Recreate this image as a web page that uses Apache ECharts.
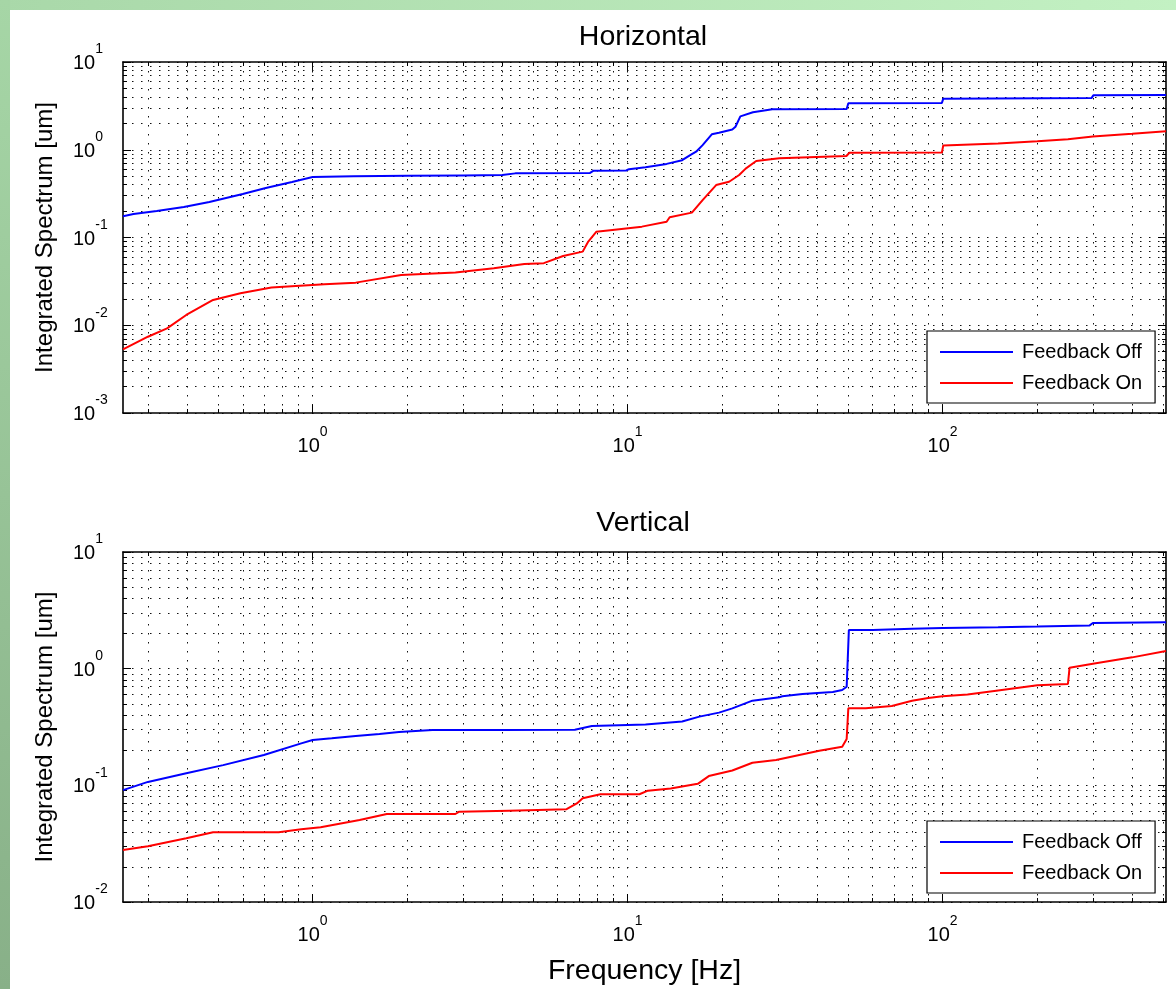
<!DOCTYPE html>
<html><head><meta charset="utf-8">
<script src="https://cdn.jsdelivr.net/npm/echarts@6/dist/echarts.min.js"></script>
<style>html,body{margin:0;padding:0;background:#fff}#c{width:1176px;height:989px}</style>
</head><body><div id="c"></div>
<script>
// ---- data ----
const freqOffH = [0.25, 0.27, 0.32, 0.39, 0.47, 0.6, 0.71, 0.86, 1.0, 1.35, 2.0, 3.0, 4.0, 4.4, 7.6, 7.8, 9.9, 10.1, 11.4, 13.3, 14.9, 15.8, 16.5, 17.3, 18.5, 19.5, 21.5, 22.0, 22.8, 25, 28.8, 49.6, 50.2, 99.5, 100.5, 297, 301, 512];
const valOffH  = [0.175, 0.185, 0.2, 0.223, 0.254, 0.313, 0.366, 0.43, 0.49, 0.50, 0.505, 0.51, 0.515, 0.538, 0.545, 0.577, 0.58, 0.60, 0.63, 0.69, 0.76, 0.87, 0.95, 1.13, 1.5, 1.56, 1.7, 1.83, 2.4, 2.67, 2.89, 2.92, 3.38, 3.42, 3.82, 3.88, 4.17, 4.2];
const freqOnH  = [0.25, 0.3, 0.345, 0.397, 0.483, 0.59, 0.74, 1.09, 1.37, 1.91, 2.84, 3.76, 4.7, 5.42, 6.24, 7.2, 7.5, 7.95, 8.95, 11.1, 13.3, 13.6, 16.0, 17.3, 19.1, 21.0, 22.6, 23.7, 25.6, 30.3, 49.5, 50.6, 99.5, 100.5, 150, 200, 250, 300, 400, 512];
const valOnH   = [0.0053, 0.0074, 0.0092, 0.0131, 0.0194, 0.0231, 0.027, 0.0293, 0.0306, 0.0374, 0.040, 0.0445, 0.050, 0.051, 0.0615, 0.069, 0.09, 0.116, 0.122, 0.133, 0.151, 0.17, 0.192, 0.267, 0.396, 0.432, 0.515, 0.61, 0.744, 0.798, 0.849, 0.925, 0.93, 1.12, 1.18, 1.25, 1.32, 1.42, 1.52, 1.62];
const freqOffV = [0.25, 0.30, 0.397, 0.52, 0.70, 0.92, 1.0, 1.15, 1.37, 1.63, 1.88, 2.4, 3.9, 6.8, 6.9, 7.7, 11.4, 14.9, 16.9, 19.5, 21.5, 24.9, 30.3, 31, 35.9, 44.8, 48, 49.6, 50.4, 60, 80, 100, 150, 200, 293, 300, 512];
const valOffV  = [0.091, 0.107, 0.127, 0.149, 0.182, 0.229, 0.245, 0.253, 0.265, 0.276, 0.286, 0.298, 0.298, 0.3, 0.308, 0.323, 0.333, 0.352, 0.388, 0.42, 0.457, 0.532, 0.569, 0.58, 0.607, 0.63, 0.656, 0.70, 2.14, 2.15, 2.2, 2.23, 2.27, 2.3, 2.35, 2.46, 2.5];
const freqOnV  = [0.25, 0.30, 0.397, 0.483, 0.78, 0.92, 1.06, 1.41, 1.72, 2.84, 2.92, 4.2, 6.4, 6.9, 7.2, 8.2, 10.9, 11.6, 13.7, 16.7, 18.1, 21.5, 24.9, 29.6, 35.1, 40.6, 48, 49.6, 50.2, 57, 69, 80, 90, 100, 120, 150, 200, 250, 253, 300, 400, 512];
const valOnV   = [0.0279, 0.030, 0.0352, 0.0396, 0.0396, 0.042, 0.0437, 0.0504, 0.0568, 0.0568, 0.0594, 0.0607, 0.0624, 0.07, 0.0775, 0.0838, 0.0838, 0.09, 0.094, 0.103, 0.12, 0.134, 0.156, 0.165, 0.182, 0.198, 0.214, 0.25, 0.457, 0.457, 0.479, 0.53, 0.56, 0.58, 0.6, 0.65, 0.72, 0.74, 1.02, 1.1, 1.25, 1.42];

const seriesNames = ['Feedback Off', 'Feedback On'];
const panelTitles = ['Horizontal', 'Vertical'];
const yTitle = 'Integrated Spectrum [um]';
const xTitle = 'Frequency [Hz]';

const xTicks = [0.3,0.4,0.5,0.6,0.7,0.8,0.9,1,2,3,4,5,6,7,8,9,10,20,30,40,50,60,70,80,90,100,200,300,400,500];
const xMajor = [1, 10, 100];
const yTicksH = [0.001,0.002,0.003,0.004,0.005,0.006,0.007,0.008,0.009,0.01,0.02,0.03,0.04,0.05,0.06,0.07,0.08,0.09,0.1,0.2,0.3,0.4,0.5,0.6,0.7,0.8,0.9,1,2,3,4,5,6,7,8,9,10];
const yMajorH = [0.001, 0.01, 0.1, 1, 10];
const yTicksV = [0.01,0.02,0.03,0.04,0.05,0.06,0.07,0.08,0.09,0.1,0.2,0.3,0.4,0.5,0.6,0.7,0.8,0.9,1,2,3,4,5,6,7,8,9,10];
const yMajorV = [0.01, 0.1, 1, 10];

// ---- styling ----
const FONT = 'Liberation Sans';
const GRIDS = [{left:123, top:62, width:1043, height:351}, {left:123, top:552, width:1043, height:350}];
const X_MIN = 0.25, X_MAX = 512;
const Y_RANGES = [[0.001, 10], [0.01, 10]];

function pow10Label(v) {
  const e = Math.round(Math.log10(v));
  return '{b|10}{s|' + e + '}';
}
const rich = {
  b: {fontSize: 20, fontFamily: FONT, color: '#000', lineHeight: 20},
  s: {fontSize: 14, fontFamily: FONT, color: '#000', lineHeight: 14, padding: [0, 0, 28, 0]}
};
const dotted = {type: [1.5, 7.5], color: '#111', width: 1};
const axLine = {show: true, onZero: false, lineStyle: {color: '#000', width: 1.6}};

function xAxesFor(g) {
  const base = {type: 'log', logBase: 10, min: X_MIN, max: X_MAX, gridIndex: g};
  return [
    Object.assign({}, base, {
      position: 'bottom', axisLine: axLine,
      axisTick: {show: true, inside: true, length: 4, customValues: xTicks, lineStyle: {color: '#000'}},
      axisLabel: {show: true, customValues: xMajor, formatter: pow10Label, rich: rich, margin: 23},
      splitLine: {show: true, lineStyle: dotted},
      name: g === 1 ? xTitle : '', nameLocation: 'middle', nameGap: 48,
      nameTextStyle: {fontSize: 28.5, fontFamily: FONT, color: '#000'}
    }),
    Object.assign({}, base, {
      position: 'bottom', axisLine: {show: false},
      axisTick: {show: true, inside: true, length: 8, customValues: xMajor, lineStyle: {color: '#000'}},
      axisLabel: {show: false}, splitLine: {show: false}
    }),
    Object.assign({}, base, {
      position: 'top', axisLine: axLine,
      axisTick: {show: true, inside: true, length: 4, customValues: xTicks, lineStyle: {color: '#000'}},
      axisLabel: {show: false}, splitLine: {show: false}
    }),
    Object.assign({}, base, {
      position: 'top', axisLine: {show: false},
      axisTick: {show: true, inside: true, length: 8, customValues: xMajor, lineStyle: {color: '#000'}},
      axisLabel: {show: false}, splitLine: {show: false}
    })
  ];
}
function yAxesFor(g) {
  const ticks = g === 0 ? yTicksH : yTicksV;
  const major = g === 0 ? yMajorH : yMajorV;
  const base = {type: 'log', logBase: 10, min: Y_RANGES[g][0], max: Y_RANGES[g][1], gridIndex: g};
  return [
    Object.assign({}, base, {
      position: 'left', axisLine: axLine,
      axisTick: {show: true, inside: true, length: 4, customValues: ticks, lineStyle: {color: '#000'}},
      axisLabel: {show: true, customValues: major, formatter: pow10Label, rich: rich, margin: 50, align: 'left', padding: [3, 0, 0, 0]},
      splitLine: {show: true, lineStyle: dotted},
      name: yTitle, nameLocation: 'middle', nameGap: 66, nameRotate: 90,
      nameTextStyle: {fontSize: 24, fontFamily: FONT, color: '#000'}
    }),
    Object.assign({}, base, {
      position: 'left', axisLine: {show: false},
      axisTick: {show: true, inside: true, length: 8, customValues: major, lineStyle: {color: '#000'}},
      axisLabel: {show: false}, splitLine: {show: false}
    }),
    Object.assign({}, base, {
      position: 'right', axisLine: axLine,
      axisTick: {show: true, inside: true, length: 4, customValues: ticks, lineStyle: {color: '#000'}},
      axisLabel: {show: false}, splitLine: {show: false}
    }),
    Object.assign({}, base, {
      position: 'right', axisLine: {show: false},
      axisTick: {show: true, inside: true, length: 8, customValues: major, lineStyle: {color: '#000'}},
      axisLabel: {show: false}, splitLine: {show: false}
    })
  ];
}

function pairs(fs, vs) { return fs.map((f, i) => [f, vs[i]]); }

function lineSeries(name, color, g, fs, vs) {
  return {
    name: name, type: 'line', xAxisIndex: g * 4, yAxisIndex: g * 4,
    data: pairs(fs, vs), showSymbol: false, symbol: 'none', clip: true,
    lineStyle: {color: color, width: 2}, itemStyle: {color: color},
    animation: false, z: 5
  };
}

function legendFor(g) {
  return {
    data: seriesNames, orient: 'vertical', left: 927, top: g === 0 ? 331 : 821,
    backgroundColor: '#fff', borderColor: '#000', borderWidth: 1.2,
    padding: [11, 13, 10, 13], itemGap: 11, itemWidth: 73, itemHeight: 2, icon: 'rect',
    textStyle: {fontSize: 20, fontFamily: FONT, color: '#000', lineHeight: 20, padding: [0, 0, 0, 4]},
    selectedMode: false
  };
}

const chart = echarts.init(document.getElementById('c'), null, {renderer: 'canvas'});
chart.setOption({
  backgroundColor: '#fff',
  animation: false,
  grid: GRIDS,
  xAxis: xAxesFor(0).concat(xAxesFor(1)),
  yAxis: yAxesFor(0).concat(yAxesFor(1)),
  legend: [legendFor(0), legendFor(1)],
  series: [
    lineSeries(seriesNames[1], '#ff0000', 0, freqOnH, valOnH),
    lineSeries(seriesNames[0], '#0000ff', 0, freqOffH, valOffH),
    lineSeries(seriesNames[1], '#ff0000', 1, freqOnV, valOnV),
    lineSeries(seriesNames[0], '#0000ff', 1, freqOffV, valOffV)
  ],
  graphic: [
    {type: 'rect', silent: true, z: -10, shape: {x: 0, y: 0, width: 1176, height: 10},
     style: {fill: new echarts.graphic.LinearGradient(0, 0, 1, 0, [{offset: 0, color: '#a9d8a9'}, {offset: 1, color: '#c3f1c3'}])}},
    {type: 'rect', silent: true, z: -10, shape: {x: 0, y: 0, width: 10, height: 989},
     style: {fill: new echarts.graphic.LinearGradient(0, 0, 0, 1, [{offset: 0, color: '#a6d6a6'}, {offset: 1, color: '#88b088'}])}},
    {type: 'text', x: 643, y: 37, silent: true,
     style: {text: panelTitles[0], fontSize: 28.5, fontFamily: FONT, fill: '#000', align: 'center', verticalAlign: 'middle', textAlign: 'center', textVerticalAlign: 'middle'}},
    {type: 'text', x: 643, y: 523, silent: true,
     style: {text: panelTitles[1], fontSize: 28.5, fontFamily: FONT, fill: '#000', align: 'center', verticalAlign: 'middle', textAlign: 'center', textVerticalAlign: 'middle'}}
  ]
});
</script></body></html>
